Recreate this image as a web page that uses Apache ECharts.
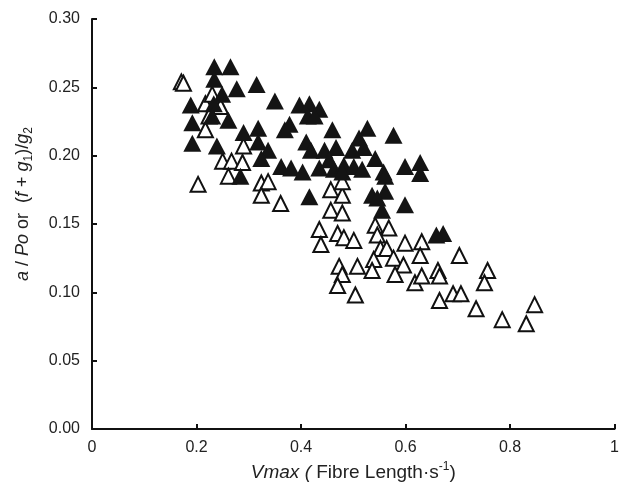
<!DOCTYPE html>
<html>
<head>
<meta charset="utf-8">
<script src="https://cdn.jsdelivr.net/npm/echarts@6/dist/echarts.min.js"></script>
<style>
html,body{margin:0;padding:0;background:#fff;}
#chart{width:622px;height:494px;}
</style>
</head>
<body>
<div id="chart"></div>
<script>
// Filled triangles: [Vmax, a/Po]
const filledPoints = [
[0.234,0.265],[0.265,0.265],[0.234,0.256],[0.277,0.249],[0.315,0.252],[0.189,0.237],[0.233,0.238],[0.249,0.245],
[0.350,0.240],[0.397,0.237],[0.416,0.238],[0.435,0.234],[0.413,0.229],[0.426,0.229],[0.192,0.224],[0.230,0.229],
[0.261,0.226],[0.290,0.217],[0.318,0.220],[0.369,0.219],[0.378,0.223],[0.460,0.219],[0.192,0.209],[0.239,0.207],
[0.410,0.210],[0.318,0.210],[0.337,0.204],[0.324,0.198],[0.419,0.204],[0.445,0.204],[0.467,0.206],[0.362,0.192],
[0.381,0.191],[0.403,0.188],[0.435,0.191],[0.463,0.190],[0.482,0.193],[0.284,0.185],[0.416,0.170],[0.498,0.204],
[0.520,0.206],[0.501,0.192],[0.517,0.190],[0.511,0.213],[0.527,0.220],[0.577,0.215],[0.542,0.198],[0.599,0.192],
[0.628,0.195],[0.628,0.187],[0.479,0.188],[0.454,0.197],[0.558,0.188],[0.561,0.185],[0.536,0.171],[0.561,0.174],
[0.599,0.164],[0.555,0.160],[0.672,0.143],[0.659,0.142],[0.546,0.169]
];
// Open triangles: [Vmax, (f + g1)/g2]
const openPoints = [
[0.171,0.254],[0.175,0.253],[0.217,0.238],[0.230,0.245],[0.246,0.236],[0.224,0.229],[0.217,0.219],[0.203,0.179],
[0.250,0.196],[0.267,0.196],[0.288,0.195],[0.290,0.207],[0.261,0.185],[0.324,0.180],[0.337,0.181],[0.324,0.171],
[0.361,0.165],[0.457,0.175],[0.479,0.171],[0.479,0.181],[0.457,0.160],[0.479,0.158],[0.435,0.146],[0.470,0.143],
[0.482,0.140],[0.501,0.138],[0.438,0.135],[0.542,0.149],[0.568,0.147],[0.546,0.142],[0.552,0.132],[0.564,0.132],
[0.599,0.136],[0.631,0.137],[0.628,0.127],[0.703,0.127],[0.539,0.124],[0.577,0.125],[0.508,0.119],[0.473,0.119],
[0.479,0.113],[0.536,0.116],[0.596,0.120],[0.580,0.113],[0.470,0.105],[0.618,0.107],[0.631,0.112],[0.662,0.116],
[0.665,0.112],[0.504,0.098],[0.665,0.094],[0.691,0.099],[0.706,0.099],[0.735,0.088],[0.757,0.116],[0.751,0.107],
[0.785,0.080],[0.847,0.091],[0.831,0.077]
];
const xTickLabels = ['0','0.2','0.4','0.6','0.8','1'];
const yTickLabels = ['0.00','0.05','0.10','0.15','0.20','0.25','0.30'];

const FONT = '"Liberation Sans", Arial, sans-serif';
const chart = echarts.init(document.getElementById('chart'), null, {renderer:'canvas'});
const axisCommon = {
  axisLine:{show:true, onZero:false, lineStyle:{color:'#111', width:2}},
  axisTick:{show:true, inside:true, length:5, lineStyle:{color:'#111', width:2}},
  splitLine:{show:false},
};
chart.setOption({
  animation:false,
  backgroundColor:'#fff',
  grid:{left:92, right:2, top:19, bottom:65, containLabel:false},
  xAxis:Object.assign({
    type:'value', min:0, max:1, interval:0.2,
    axisLabel:{margin:11, fontSize:16, color:'#222', fontFamily:FONT,
      formatter:(v)=>xTickLabels[Math.round(v/0.2)]},
    name:'{it|Vmax (}{n| Fibre Length·s}{sup|-1}{n|)}',
    nameLocation:'middle', nameGap:28,
    nameTextStyle:{
      fontFamily:FONT, fontSize:19, color:'#222',
      rich:{
        it:{fontStyle:'italic', fontSize:19, fontFamily:FONT, color:'#222', lineHeight:24, verticalAlign:'middle'},
        n:{fontSize:19, fontFamily:FONT, color:'#222', lineHeight:24, verticalAlign:'middle'},
        sup:{fontSize:12, fontFamily:FONT, color:'#222', lineHeight:12, verticalAlign:'top'}
      }
    }
  }, axisCommon),
  yAxis:Object.assign({
    type:'value', min:0, max:0.3, interval:0.05,
    axisLabel:{margin:12, fontSize:16, color:'#222', fontFamily:FONT,
      formatter:(v)=>yTickLabels[Math.round(v/0.05)]},
  }, axisCommon),
  graphic:[{
    type:'text', x:23, y:204, rotation:Math.PI/2,
    style:{
      text:'{it|a}{n| / }{it|Po}{n| or  (}{it|f}{n| + }{it|g}{sub|1}{n|)/}{it|g}{sub|2}',
      align:'center', verticalAlign:'middle',
      rich:{
        it:{fontStyle:'italic', fontSize:18, fontFamily:FONT, fill:'#222', lineHeight:24, verticalAlign:'middle'},
        n:{fontSize:18, fontFamily:FONT, fill:'#222', lineHeight:24, verticalAlign:'middle'},
        sub:{fontSize:12, fontFamily:FONT, fill:'#222', lineHeight:12, verticalAlign:'bottom'}
      }
    }
  }],
  series:[
    {
      type:'scatter', name:'open', data:openPoints, symbol:'triangle', symbolSize:[15,15], z:2,
      itemStyle:{color:'#fff', borderColor:'#111', borderWidth:2, opacity:1}
    },
    {
      type:'scatter', name:'filled', data:filledPoints, symbol:'triangle', symbolSize:[18,17], z:3,
      itemStyle:{color:'#141414', opacity:1}
    }
  ]
});
</script>
</body>
</html>
